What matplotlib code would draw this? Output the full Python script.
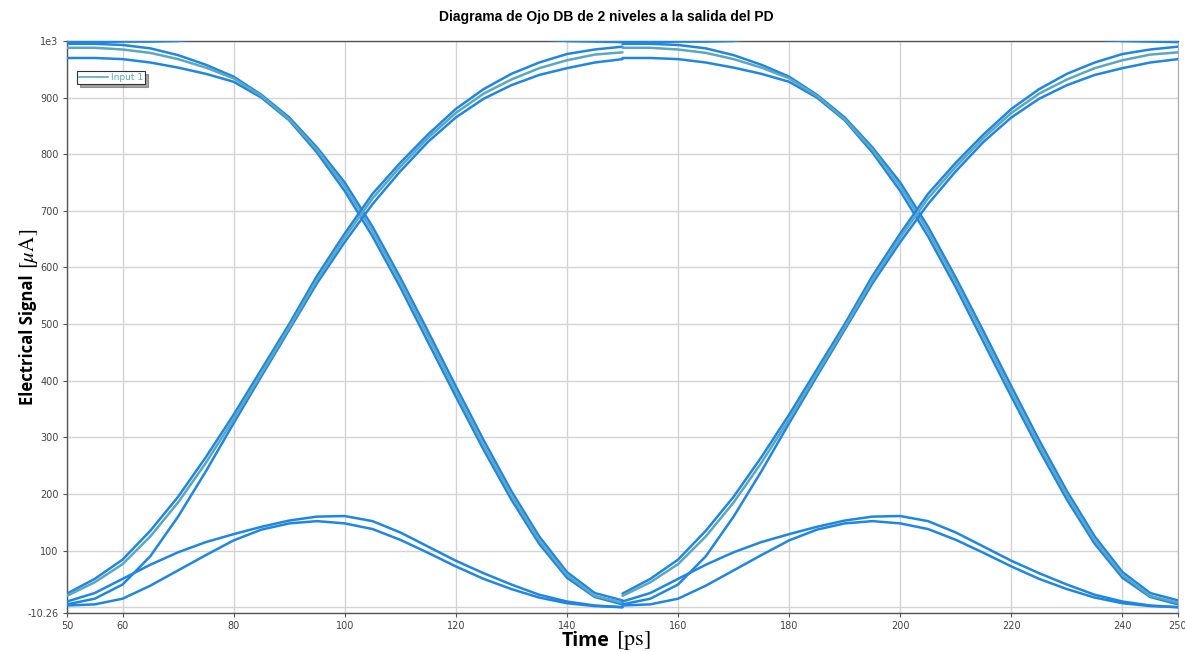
import matplotlib
matplotlib.use("Agg")
import matplotlib.pyplot as plt

# ---------------- data ----------------
# time samples of one bit slot [ps]; the window shows two slots (offsets below)
t_slot = [50, 55, 60, 65, 70, 75, 80, 85, 90, 95, 100,
          105, 110, 115, 120, 125, 130, 135, 140, 145, 150]
slot_offsets = [0, 100]

# eye-diagram segments [uA], one value per entry of t_slot
fall_a = [995, 995, 993, 987, 975, 958, 937, 905, 865, 812, 750,
          672, 582, 487, 390, 295, 205, 125, 62, 25, 12]
fall_b = [970, 970, 968, 962, 953, 942, 928, 900, 860, 803, 735,
          655, 565, 468, 372, 278, 190, 112, 52, 18, 5]
fall_c = [988, 988, 985, 979, 968, 953, 934, 903, 862, 808, 743,
          664, 574, 478, 381, 286, 198, 118, 57, 20, 8]
rise_a = [24, 50, 84, 135, 195, 265, 340, 420, 500, 585, 660,
          730, 785, 835, 880, 915, 942, 962, 977, 985, 990]
rise_b = [5, 15, 40, 90, 160, 240, 325, 408, 490, 572, 645,
          712, 770, 822, 865, 898, 922, 940, 952, 962, 968]
rise_c = [20, 44, 76, 125, 185, 255, 332, 413, 494, 578, 653,
          722, 778, 829, 873, 907, 932, 952, 966, 976, 980]
bump_u = [10, 25, 50, 75, 97, 115, 129, 142, 153, 160, 161,
          152, 132, 107, 82, 60, 40, 22, 10, 3, 0]
bump_l = [3, 5, 15, 38, 65, 92, 118, 137, 148, 152, 148,
          138, 119, 96, 72, 50, 32, 17, 7, 2, 0]
high = [998, 998, 999, 999, 1000, 1006, 1015, 1020, 1020, 1020, 1020,
        1020, 1020, 1020, 1020, 1015, 1008, 1003, 1000, 999, 998]

segment_values = [fall_a, fall_b, fall_c, rise_a, rise_b,
                  rise_c, bump_u, bump_l, high]
segment_teal = [False, False, True, False, False, True, False, False, False]

x_ticks = [50, 60, 80, 100, 120, 140, 160, 180, 200, 220, 240, 250]
y_ticks = [-10.26, 100, 200, 300, 400, 500, 600, 700, 800, 900, 1000]
y_tick_labels = ["-10.26", "100", "200", "300", "400", "500", "600",
                 "700", "800", "900", "1e3"]

title = "Diagrama de Ojo DB de 2 niveles a la salida del PD"
legend_label = "Input 1"
x_label_word, x_label_unit = "Time", r"$[\mathrm{ps}]$"
y_label_word, y_label_unit = "Electrical Signal", r"$[\mu\mathrm{A}]$"

# ---------------- figure ----------------
plt.rcParams["mathtext.fontset"] = "stix"
W, H = 1185, 652
fig = plt.figure(figsize=(W / 100, H / 100), dpi=100)
ax = fig.add_axes([67 / W, 1 - 613 / H, (1178 - 67) / W, (613 - 41) / H])

blue = "#1f86e3"
teal = "#5aa7bf"

for off in slot_offsets:
    tt = [t + off for t in t_slot]
    for vals, is_teal in zip(segment_values, segment_teal):
        ax.plot(tt, vals, color=teal if is_teal else blue, lw=1.8,
                solid_capstyle="round", solid_joinstyle="round", zorder=3)

ax.set_xlim(50, 250)
ax.set_ylim(-10.26, 1000)
ax.set_xticks(x_ticks)
ax.set_xticklabels([str(v) for v in x_ticks])
ax.set_yticks(y_ticks)
ax.set_yticklabels(y_tick_labels)
ax.grid(True, color="#d4d4d4", lw=1.0, zorder=0)
ax.axhline(0, color="#d4d4d4", lw=1.0, zorder=0)
ax.tick_params(axis="both", labelsize=7, colors="#555555", length=3,
               width=0.8, pad=3, labelcolor="#444444")

for side in ["left", "bottom", "top"]:
    ax.spines[side].set_color("#555555")
    ax.spines[side].set_linewidth(1.0)
ax.spines["right"].set_color("#aaaaaa")

# legend (proxy line)
h, = ax.plot([], [], color=teal, lw=1.2, label=legend_label)
leg = ax.legend(handles=[h], loc="upper left", bbox_to_anchor=(0.009, 0.948),
                fontsize=6.5, frameon=True, fancybox=False, shadow=True,
                edgecolor="#333333", handlelength=3.2, borderpad=0.25,
                handletextpad=0.3, borderaxespad=0)
for txt in leg.get_texts():
    txt.set_color(teal)
leg.get_frame().set_linewidth(0.8)

fig.text(0.512, 0.974, title, ha="center", va="center", fontsize=10,
         fontweight="bold", family="Liberation Sans")

# y label: bold word + serif unit
fig.text(28 / W, 1 - 340 / H, y_label_word, rotation=90, ha="center",
         va="center", fontsize=12, fontweight="bold", family="Open Sans")
fig.text(28 / W, 1 - 249 / H, y_label_unit, rotation=90, ha="center",
         va="center", fontsize=15)
# x label
fig.text(610 / W, 1 - 641 / H, x_label_word, ha="right", va="center",
         fontsize=14, fontweight="bold", family="Open Sans")
fig.text(616 / W, 1 - 641 / H, x_label_unit, ha="left", va="center",
         fontsize=16)

fig.savefig("out.png", dpi=100)
